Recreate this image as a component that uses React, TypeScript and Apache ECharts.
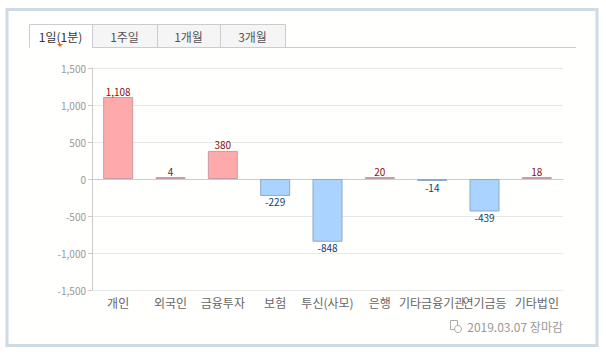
import React, { useEffect, useRef } from "react";
import * as echarts from "echarts";

const categories = ["개인", "외국인", "금융투자", "보험", "투신(사모)", "은행", "기타금융기관", "연기금등", "기타법인"];
const values = [1108, 4, 380, -229, -848, 20, -14, -439, 18];
const tabs = ["1일(1분)", "1주일", "1개월", "3개월"];
const dateLabel = "2019.03.07 장마감";

const FONT = '"Noto Sans CJK KR", "DejaVu Sans", sans-serif';

export default function App() {
  const ref = useRef<HTMLDivElement>(null);
  useEffect(() => {
    const chart = echarts.init(ref.current!, null, { renderer: "svg" });
    const tabX = [29, 92, 157, 220, 285];
    const tabGraphics: any[] = [];
    tabs.forEach((t, i) => {
      const x0 = tabX[i];
      const w = tabX[i + 1] - x0;
      tabGraphics.push({
        type: "rect",
        shape: { x: x0 + 0.5, y: 24.5, width: w, height: 23 },
        style: { fill: i === 0 ? "#ffffff" : "#f5f5f5", stroke: "#cccccc", lineWidth: 1 },
        z: 1,
      });
      tabGraphics.push({
        type: "text",
        x: x0 + w / 2,
        y: 36,
        style: { text: t, fill: i === 0 ? "#333333" : "#555555", font: `12px ${FONT}`, align: "center", verticalAlign: "middle" },
        z: 3,
      });
    });
    // hide bottom of active tab
    tabGraphics.push({ type: "rect", shape: { x: 30, y: 46, width: 62, height: 3 }, style: { fill: "#ffffff" }, z: 2 });
    tabGraphics.push({ type: "line", shape: { x1: 285, y1: 47.5, x2: 576, y2: 47.5 }, style: { stroke: "#cccccc", lineWidth: 1 }, z: 2 });
    tabGraphics.push({ type: "polygon", shape: { points: [[57, 44], [63, 44], [60, 47]] }, style: { fill: "#e07020" }, z: 3 });

    chart.setOption({
      animation: false,
      backgroundColor: "#ffffff",
      graphic: [
        { type: "rect", shape: { x: 7, y: 9.5, width: 590, height: 336 }, style: { fill: "#fffffd", stroke: "#cfdae5", lineWidth: 3 }, z: 0, silent: true },
        ...tabGraphics,
        { type: "rect", shape: { x: 450.5, y: 320.5, width: 7, height: 9 }, style: { fill: "none", stroke: "#aaaaaa", lineWidth: 1 }, z: 3 },
        { type: "circle", shape: { cx: 458, cy: 329, r: 3.5 }, style: { fill: "#fffffd", stroke: "#aaaaaa", lineWidth: 1 }, z: 4 },
        {
          type: "text", x: 563, y: 326,
          style: { text: dateLabel, fill: "#999999", font: `12px ${FONT}`, align: "right", verticalAlign: "middle" }, z: 3,
        },
      ],
      grid: { left: 92, right: 43, top: 68, bottom: 66, show: true, borderColor: "#dddddd", borderWidth: 1, backgroundColor: "transparent" },
      xAxis: {
        type: "category",
        data: categories,
        axisLine: { lineStyle: { color: "#cccccc" } },
        axisTick: { alignWithLabel: true, length: 4, lineStyle: { color: "#cccccc" } },
        axisLabel: { interval: 0, color: "#666666", fontSize: 12, fontFamily: FONT, margin: 6, hideOverlap: false },
      },
      yAxis: {
        type: "value",
        min: -1500,
        max: 1500,
        interval: 500,
        axisLine: { show: true, lineStyle: { color: "#cccccc" } },
        axisTick: { show: true, length: 4, lineStyle: { color: "#cccccc" } },
        axisLabel: {
          color: "#999999", fontSize: 10, fontFamily: FONT, margin: 6,
          formatter: (v: number) => v.toLocaleString("en-US"),
        },
        splitLine: { lineStyle: { color: "#e8e8e8" } },
      },
      series: [
        {
          type: "bar",
          barWidth: 30,
          barMinHeight: 2,
          data: values.map((v) => ({
            value: v,
            itemStyle: v >= 0
              ? { color: "#ffaaaa", borderColor: "#c99aa8", borderWidth: 1 }
              : { color: "#aad4ff", borderColor: "#8caac8", borderWidth: 1 },
            label: {
              show: true,
              position: v >= 0 ? "top" : "bottom",
              distance: 1,
              color: v >= 0 ? "#8b1010" : "#10406e",
              fontSize: 10,
              fontFamily: FONT,
              formatter: (p: any) => Number(p.value).toLocaleString("en-US"),
            },
          })),
        },
      ],
    });
    return () => chart.dispose();
  }, []);
  return <div ref={ref} style={{ position: "absolute", left: 0, top: 0, width: 606, height: 356 }} />;
}
